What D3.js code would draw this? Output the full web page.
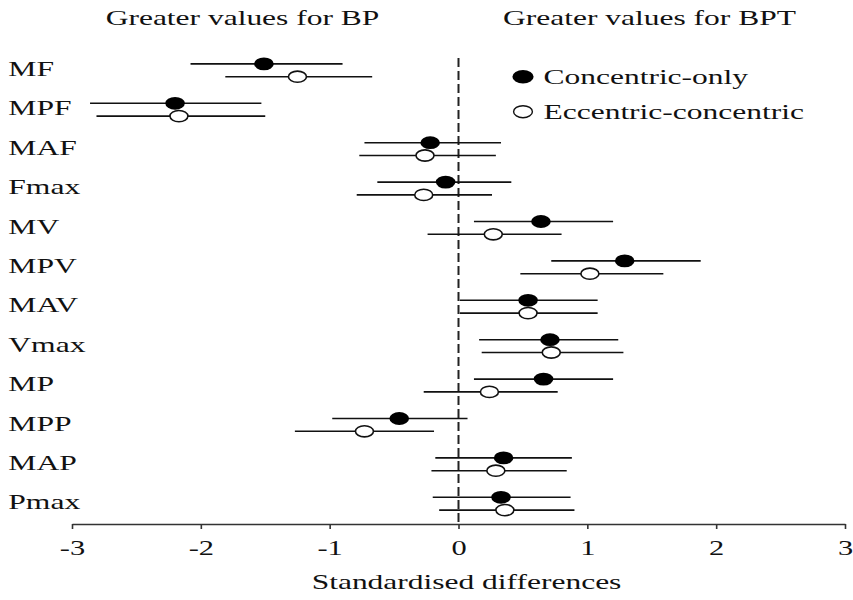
<!DOCTYPE html>
<html>
<head>
<meta charset="utf-8">
<script src="https://cdn.jsdelivr.net/npm/d3@7"></script>
<style>
  body { margin: 0; background: #fff; }
  svg { display: block; }
  text { font-family: "Liberation Serif", "Times New Roman", serif; fill: #111; }
</style>
</head>
<body>
<svg id="chart" width="853" height="600"></svg>
<script>
// ---- data ----
const categories = ["MF","MPF","MAF","Fmax","MV","MPV","MAV","Vmax","MP","MPP","MAP","Pmax"];
// Concentric-only (filled)
const concMean  = [-1.51, -2.20, -0.22, -0.10, 0.64, 1.29, 0.54, 0.71, 0.66, -0.46, 0.35, 0.33];
const concLow   = [-2.08, -2.86, -0.73, -0.63, 0.12, 0.72, 0.01, 0.16, 0.12, -0.98, -0.18, -0.20];
const concHigh  = [-0.90, -1.53, 0.33, 0.41, 1.20, 1.88, 1.08, 1.24, 1.20, 0.07, 0.88, 0.87];
// Eccentric-concentric (open)
const eccMean   = [-1.25, -2.17, -0.26, -0.27, 0.27, 1.02, 0.54, 0.72, 0.24, -0.73, 0.29, 0.36];
const eccLow    = [-1.81, -2.81, -0.77, -0.79, -0.24, 0.48, 0.01, 0.18, -0.27, -1.27, -0.21, -0.15];
const eccHigh   = [-0.67, -1.50, 0.29, 0.26, 0.80, 1.59, 1.08, 1.28, 0.77, -0.19, 0.84, 0.90];
const tickValues = [-3, -2, -1, 0, 1, 2, 3];
const tickLabels = ["-3", "-2", "-1", "0", "1", "2", "3"];
const seriesNames = ["Concentric-only", "Eccentric-concentric"];
const leftTitle = "Greater values for BP";
const rightTitle = "Greater values for BPT";
const xTitle = "Standardised differences";

// ---- build ----
const series = [
  { name: seriesNames[0], filled: true,  off: -6.4, mean: concMean, low: concLow, high: concHigh },
  { name: seriesNames[1], filled: false, off:  6.4, mean: eccMean,  low: eccLow,  high: eccHigh }
];

const svg = d3.select("#chart");
const x = d3.scaleLinear().domain([-3, 3]).range([72, 845]);
const y = d3.scalePoint().domain(categories).range([70.3, 503.7]);
const axisY = 524;
const SX = 1.55;   // horizontal stretch of the reference

function stretchedText(g, tx, ty, str, size, anchor, sx) {
  return g.append("text")
    .attr("transform", `translate(${tx},${ty}) scale(${sx || SX},1)`)
    .attr("text-anchor", anchor || "start")
    .style("font-size", size + "px")
    .text(str);
}

// dashed zero line
svg.append("line")
  .attr("x1", x(0)).attr("x2", x(0))
  .attr("y1", 58).attr("y2", axisY)
  .attr("stroke", "#222").attr("stroke-width", 2)
  .attr("stroke-dasharray", "9,4");

// x axis
const axis = d3.axisBottom(x)
  .tickValues(tickValues)
  .tickSize(5)
  .tickSizeOuter(0)
  .tickFormat((d, i) => tickLabels[i]);
const ax = svg.append("g").attr("transform", `translate(0,${axisY})`).call(axis);
ax.select(".domain").attr("stroke", "#333").attr("stroke-width", 1.6);
ax.selectAll(".tick line").attr("stroke", "#333").attr("stroke-width", 1.6);
ax.selectAll(".tick text")
  .attr("y", 0).attr("dy", 0)
  .attr("transform", `translate(0,31) scale(1.45,1)`)
  .style("font-family", '"Liberation Serif", "Times New Roman", serif')
  .style("font-size", "21px")
  .attr("fill", "#111");

// category labels
const labG = svg.append("g");
categories.forEach(c => stretchedText(labG, 8.3, y(c) + 5.6, c, 20, "start", 1.58));

// series
series.forEach(s => {
  const g = svg.append("g");
  g.selectAll("line.ci").data(categories).join("line")
    .attr("class", "ci")
    .attr("x1", (c, i) => x(s.low[i])).attr("x2", (c, i) => x(s.high[i]))
    .attr("y1", c => y(c) + s.off).attr("y2", c => y(c) + s.off)
    .attr("stroke", "#111").attr("stroke-width", 1.6);
  g.selectAll("ellipse").data(categories).join("ellipse")
    .attr("cx", (c, i) => x(s.mean[i]))
    .attr("cy", c => y(c) + s.off)
    .attr("rx", s.filled ? 9.8 : 9.0)
    .attr("ry", s.filled ? 6.4 : 5.6)
    .attr("fill", s.filled ? "#000" : "#fff")
    .attr("stroke", "#111")
    .attr("stroke-width", s.filled ? 0 : 1.6);
});

// titles
stretchedText(svg, 242.5, 25, leftTitle, 21, "middle", 1.5);
stretchedText(svg, 649.5, 25, rightTitle, 21, "middle", 1.5);
stretchedText(svg, 466.5, 589, xTitle, 21, "middle", 1.5);

// legend
const leg = svg.append("g");
const legY = [76.7, 111.7];
series.forEach((s, i) => {
  leg.append("ellipse")
    .attr("cx", 523).attr("cy", legY[i])
    .attr("rx", s.filled ? 10.6 : 9.4).attr("ry", s.filled ? 6.8 : 6.0)
    .attr("fill", s.filled ? "#000" : "#fff")
    .attr("stroke", "#111").attr("stroke-width", s.filled ? 0 : 1.4);
  stretchedText(leg, 543.5, legY[i] + 6.8, s.name, 21, "start", 1.5);
});
</script>
</body>
</html>
